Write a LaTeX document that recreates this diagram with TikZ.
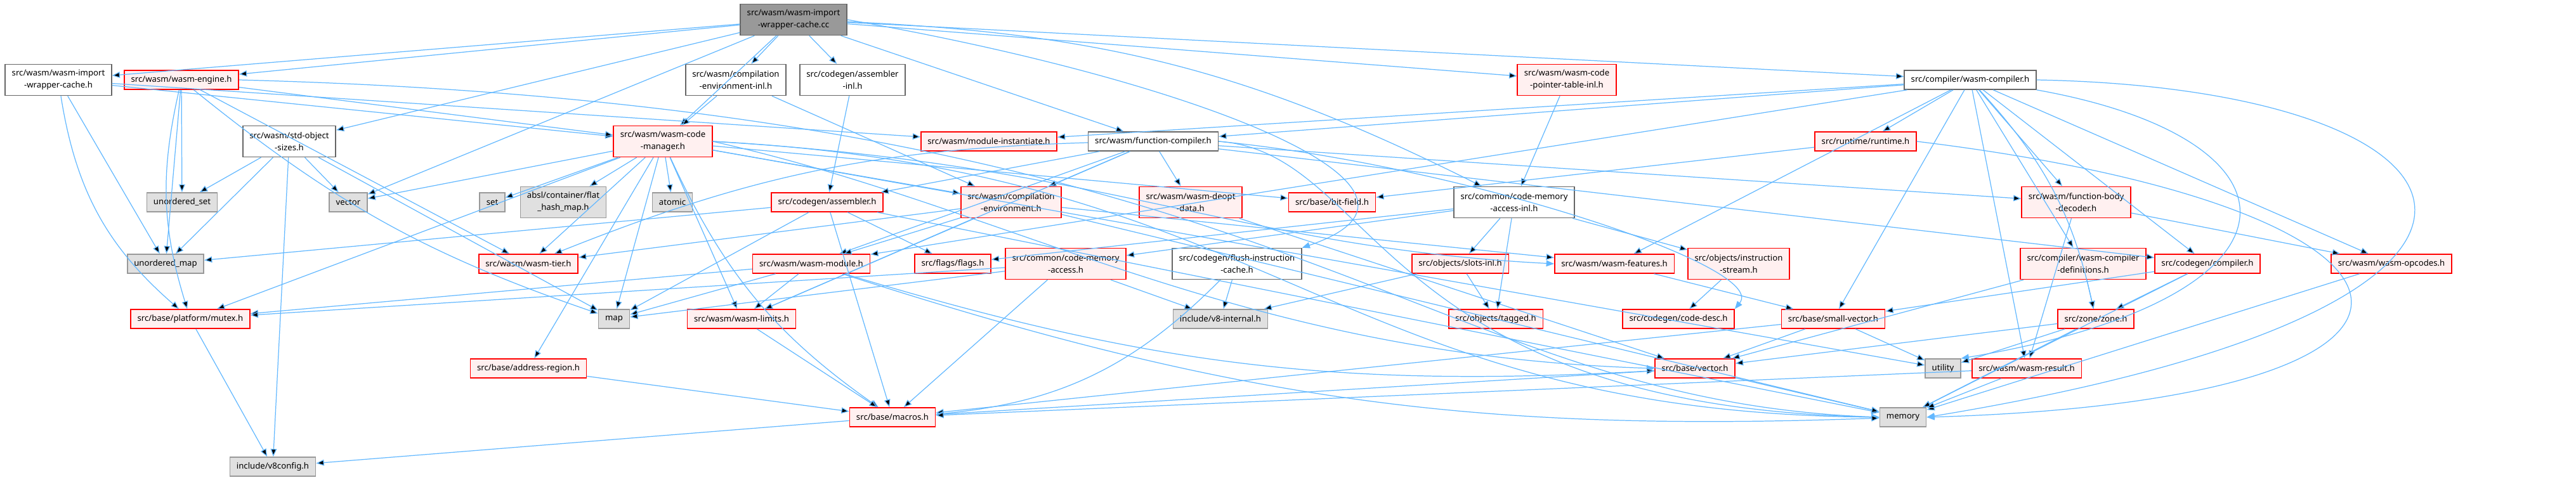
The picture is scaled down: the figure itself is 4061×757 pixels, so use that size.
\documentclass[tikz,border=0pt]{standalone}
\usepackage{fontspec}
\setmainfont{Noto Sans}
\usetikzlibrary{arrows.meta}

\definecolor{edgeblue}{RGB}{99,184,255}
\definecolor{cutline}{RGB}{255,0,0}
\definecolor{cutfill}{RGB}{255,240,240}
\definecolor{sysline}{RGB}{153,153,153}
\definecolor{sysfill}{RGB}{224,224,224}
\definecolor{plainline}{RGB}{102,102,102}
\definecolor{rootfill}{RGB}{153,153,153}

\tikzset{
  box/.style={rectangle, line width=0.9pt, inner xsep=6pt, inner ysep=0pt,
    minimum height=0.6cm, align=center, font=\fontsize{7.5}{10.8}\selectfont},
  tall/.style={minimum height=0.98cm},
  rootbox/.style={box, draw=plainline, fill=rootfill},
  plainbox/.style={box, draw=plainline, fill=white},
  sysbox/.style={box, draw=sysline, fill=sysfill},
  cutbox/.style={box, draw=cutline, fill=cutfill},
  dep/.style={draw=edgeblue, line width=0.7pt, -{Triangle[length=7pt,width=5.5pt]}}
}

\begin{document}
\begin{tikzpicture}[x=0.02cm, y=-0.02cm]

\useasboundingbox (0,0) rectangle (4061,757);

% Rank 0
\node[rootbox, tall] (root) at (1251,31) {src/wasm/wasm-import\\-wrapper-cache.cc};

% Rank 1
\node[plainbox, tall] (wiwch) at (92,126) {src/wasm/wasm-import\\-wrapper-cache.h};
\node[cutbox] (engine) at (286,126) {src/wasm/wasm-engine.h};
\node[plainbox, tall] (compenvinl) at (1160,126) {src/wasm/compilation\\-environment-inl.h};
\node[plainbox, tall] (asminl) at (1344,126) {src/codegen/assembler\\-inl.h};
\node[cutbox, tall] (cptinl) at (2470,126) {src/wasm/wasm-code\\-pointer-table-inl.h};
\node[plainbox] (wasmcomp) at (3106,126) {src/compiler/wasm-compiler.h};

% Rank 2
\node[plainbox, tall] (stdobj) at (456,223) {src/wasm/std-object\\-sizes.h};
\node[cutbox, tall] (codemgr) at (1045,223) {src/wasm/wasm-code\\-manager.h};
\node[cutbox] (modinst) at (1559,223) {src/wasm/module-instantiate.h};
\node[plainbox] (funccomp) at (1818,223) {src/wasm/function-compiler.h};
\node[cutbox] (runtime) at (2941,223) {src/runtime/runtime.h};

% Rank 3
\node[sysbox] (uset) at (287,319) {unordered\_set};
\node[sysbox] (vector) at (549,319) {vector};
\node[sysbox] (set) at (776,319) {set};
\node[sysbox, tall] (flathash) at (888,319) {absl/container/flat\\\_hash\_map.h};
\node[sysbox] (atomic) at (1060,319) {atomic};
\node[cutbox] (asm) at (1304,319) {src/codegen/assembler.h};
\node[cutbox, tall] (compenv) at (1594,319) {src/wasm/compilation\\-environment.h};
\node[cutbox, tall] (deopt) at (1877,319) {src/wasm/wasm-deopt\\-data.h};
\node[cutbox] (bitfield) at (2100,319) {src/base/bit-field.h};
\node[plainbox, tall] (cmainl) at (2387,319) {src/common/code-memory\\-access-inl.h};
\node[cutbox, tall] (fbdec) at (3273,319) {src/wasm/function-body\\-decoder.h};

% Rank 4
\node[sysbox] (umap) at (261,416) {unordered\_map};
\node[cutbox] (tier) at (833,416) {src/wasm/wasm-tier.h};
\node[cutbox] (module) at (1279,416) {src/wasm/wasm-module.h};
\node[cutbox] (flags) at (1502,416) {src/flags/flags.h};
\node[cutbox, tall] (cma) at (1680,416) {src/common/code-memory\\-access.h};
\node[plainbox, tall] (flush) at (1950,416) {src/codegen/flush-instruction\\-cache.h};
\node[cutbox] (slots) at (2302,416) {src/objects/slots-inl.h};
\node[cutbox] (features) at (2545,416) {src/wasm/wasm-features.h};
\node[cutbox, tall] (istream) at (2741,416) {src/objects/instruction\\-stream.h};
\node[cutbox, tall] (cdefs) at (3284,416) {src/compiler/wasm-compiler\\-definitions.h};
\node[cutbox] (ccompiler) at (3480,416) {src/codegen/compiler.h};
\node[cutbox] (opcodes) at (3770,416) {src/wasm/wasm-opcodes.h};

% Rank 5
\node[cutbox] (mutex) at (300,503) {src/base/platform/mutex.h};
\node[sysbox] (map) at (968,503) {map};
\node[cutbox] (limits) at (1169,503) {src/wasm/wasm-limits.h};
\node[sysbox] (v8int) at (1924,503) {include/v8-internal.h};
\node[cutbox] (tagged) at (2358,503) {src/objects/tagged.h};
\node[cutbox] (codedesc) at (2646,503) {src/codegen/code-desc.h};
\node[cutbox] (smallvec) at (2890,503) {src/base/small-vector.h};
\node[cutbox] (zone) at (3304,503) {src/zone/zone.h};

% Rank 6
\node[cutbox] (addrreg) at (833,581) {src/base/address-region.h};
\node[cutbox] (bvector) at (2672,581) {src/base/vector.h};
\node[sysbox] (utility) at (3063,581) {utility};
\node[cutbox] (result) at (3195,581) {src/wasm/wasm-result.h};

% Rank 7
\node[cutbox] (macros) at (1407,658) {src/base/macros.h};
\node[sysbox] (memory) at (3000,658) {memory};

% Rank 8
\node[sysbox] (v8config) at (430,736) {include/v8config.h};

% Edges from the source file
\path[dep] (root) edge (wiwch) edge (engine) edge (stdobj) edge (vector)
  edge (codemgr) edge (compenvinl) edge (asminl) edge (funccomp)
  edge (cptinl) edge (wasmcomp) edge[bend left=12] (cmainl);
\draw[dep] (root.east) .. controls (1900,130) and (2320,300) .. (flush.north east);

% Edges from the first rank
\path[dep] (wiwch) edge (umap) edge[bend right=20] (mutex) edge (codemgr) edge (modinst);
\path[dep] (engine) edge (uset) edge (umap) edge[bend right=15] (mutex)
  edge[bend right=10] (map) edge (codemgr) edge (tier);
\draw[dep] (engine.east) .. controls (2050,170) and (2230,630) .. (memory.west);
\path[dep] (compenvinl) edge (codemgr) edge (compenv);
\path[dep] (asminl) edge (asm);
\path[dep] (cptinl) edge (cmainl);
\path[dep] (wasmcomp) edge (modinst) edge (funccomp) edge (runtime) edge (fbdec)
  edge (cdefs) edge (ccompiler) edge (opcodes) edge[bend left=15] (zone)
  edge (result) edge (smallvec) edge (features) edge (module);
\draw[dep] (wasmcomp.south east) .. controls (3650,220) and (3660,470) .. (utility.north east);
\draw[dep] (wasmcomp.east) .. controls (3945,140) and (4120,480) .. (memory.east);

% Edges from the second rank
\path[dep] (stdobj) edge (uset) edge (vector) edge (umap) edge (v8config) edge (map);
\path[dep] (codemgr) edge (atomic) edge (set) edge (flathash) edge (vector)
  edge (map) edge (tier) edge (addrreg) edge[bend right=15] (macros) edge (mutex)
  edge (limits) edge (compenv) edge (bitfield) edge (utility);
\draw[dep] (codemgr.east) .. controls (1750,260) and (1950,390) .. (features.west);
\draw[dep] (codemgr.east) .. controls (1600,330) and (1950,560) .. (bvector.west);
\draw[dep] (codemgr.east) .. controls (2020,270) and (2100,650) .. (memory.west);
\path[dep] (funccomp) edge (asm) edge (compenv) edge (deopt) edge (module)
  edge (limits) edge[bend right=10] (tier) edge (ccompiler) edge (fbdec);
\draw[dep] (funccomp.east) .. controls (2300,260) and (2790,420) .. (codedesc.north east);
\draw[dep] (funccomp.east) .. controls (2170,240) and (2170,640) .. (memory.west);
\path[dep] (runtime) edge (bitfield);
\draw[dep] (runtime.east) .. controls (3900,330) and (3960,630) .. (memory.east);

% Edges from the third rank
\path[dep] (asm) edge (umap) edge (map) edge (flags) edge (macros) edge (memory);
\path[dep] (compenv) edge (module) edge (limits) edge (tier) edge (features) edge (memory);
\path[dep] (deopt) edge (bvector);
\path[dep] (cmainl) edge (cma) edge (flags) edge (slots) edge (tagged) edge (istream);
\path[dep] (fbdec) edge (opcodes) edge (result);

% Edges from the fourth rank
\path[dep] (module) edge (mutex) edge (map) edge (limits)
  edge[bend right=10] (bvector) edge[bend right=10] (memory);
\path[dep] (cma) edge (mutex) edge (map) edge (v8int) edge (macros);
\path[dep] (flush) edge (v8int) edge[bend left=20] (macros);
\path[dep] (slots) edge (tagged) edge (v8int);
\path[dep] (features) edge (smallvec);
\path[dep] (istream) edge (codedesc);
\path[dep] (cdefs) edge (zone) edge (bvector);
\path[dep] (ccompiler) edge (zone) edge (smallvec) edge (memory);
\path[dep] (opcodes) edge (memory);

% Edges from the lower ranks
\path[dep] (mutex) edge (v8config);
\path[dep] (limits) edge (macros);
\path[dep] (smallvec) edge (bvector) edge (utility) edge (macros);
\path[dep] (zone) edge (bvector) edge (utility) edge (memory);
\path[dep] (addrreg) edge (macros);
\path[dep] (bvector) edge (macros) edge (memory);
\path[dep] (result) edge (macros) edge (memory);
\path[dep] (macros) edge (v8config);

\end{tikzpicture}
\end{document}
